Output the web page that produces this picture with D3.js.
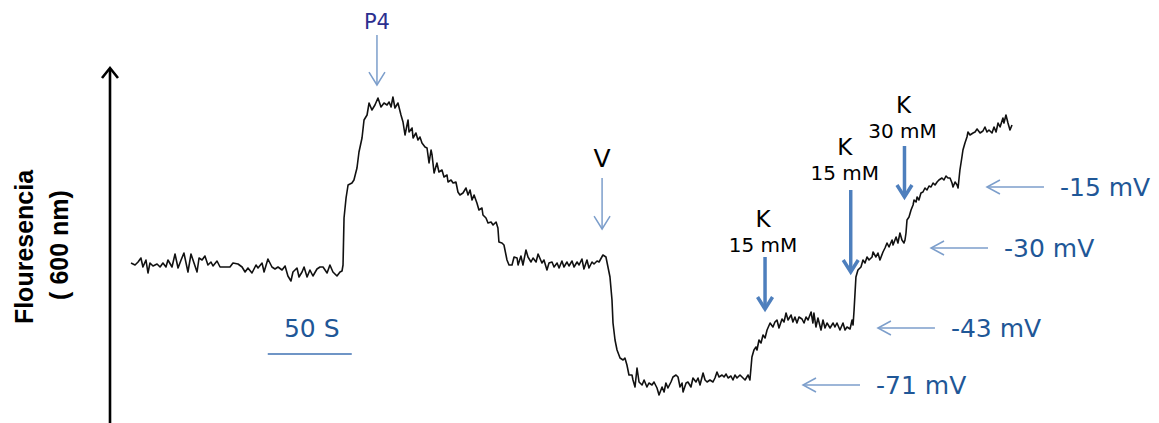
<!DOCTYPE html>
<html>
<head>
<meta charset="utf-8">
<script src="https://cdn.jsdelivr.net/npm/d3@7"></script>
<style>
  html, body { margin: 0; padding: 0; background: #ffffff; }
  svg { display: block; }
</style>
</head>
<body>
<svg id="chart" width="1159" height="423"></svg>
<script>
// Fluorescence trace (arbitrary units) against time (s)
const timeS = [
  0.6, 3.0, 4.8, 6.5, 7.7, 9.5, 10.7, 11.9, 13.7, 16.1, 17.9, 19.6, 21.4, 22.6, 25.0, 26.8, 28.6, 30.4, 32.1, 34.5,
  36.3, 37.5, 39.9, 41.1, 42.9, 44.6, 46.4, 48.2, 49.4, 51.8, 53.6, 56.5, 59.5, 61.3, 64.3, 66.7, 68.5, 70.2, 72.6, 75.0,
  76.2, 78.6, 79.8, 82.1, 84.5, 86.3, 88.1, 90.5, 92.3, 94.0, 95.8, 97.0, 99.4, 100.6, 102.4, 103.6, 105.4, 107.1, 108.9, 111.3,
  113.1, 114.9, 117.3, 119.0, 120.8, 123.2, 125.0, 126.2,
  126.8, 127.4, 128.6, 129.8, 132.1, 133.3, 135.1, 136.3, 138.1, 139.3, 141.1, 142.3, 144.0, 145.8, 147.6, 149.4, 151.2, 153.0, 154.2, 155.4,
  156.5, 157.7, 159.5, 161.3, 162.5, 163.7, 165.5, 166.1, 167.9, 168.5, 170.2, 171.4, 172.6, 173.8, 175.6, 176.8, 178.0, 179.2, 179.8, 181.0,
  182.7, 183.9, 185.7, 186.9, 188.7, 189.3, 191.1, 192.3, 194.0, 195.2, 196.4, 198.2, 200.0, 201.2, 202.4, 203.6, 204.8, 206.5, 207.7, 209.5,
  210.1, 211.9, 213.1, 214.9, 216.1, 217.9, 219.0, 219.6, 221.4, 222.6, 224.4, 225.6, 227.4, 228.6, 230.4, 231.0, 232.7, 233.9, 235.7, 236.9,
  238.7, 239.9, 241.7, 242.9, 245.2, 246.4, 248.2, 249.4, 251.2, 252.4, 254.2, 255.4, 257.1, 258.3, 260.1, 261.3, 263.1, 264.3, 266.1, 267.3,
  269.0, 270.2, 272.0, 273.2, 275.0, 276.2, 278.0, 279.2, 281.5, 283.3, 284.5, 285.7, 286.9, 287.5, 288.7, 289.9, 291.7, 293.5, 294.6, 295.8,
  297.0, 298.8, 299.4, 300.6, 301.8, 303.0, 304.8, 306.0, 307.7, 308.9, 310.7, 311.9, 313.7, 314.9, 316.7, 317.9, 319.0, 320.2, 322.0, 323.2,
  325.0, 326.2, 327.4, 328.6, 329.2, 331.0, 332.1, 333.9, 335.1, 336.9, 338.1, 339.3, 341.1, 342.3, 343.5, 345.2, 347.0, 348.2, 349.4, 350.6,
  352.4, 353.6, 354.8, 356.0, 357.7, 358.9, 360.1, 361.3, 363.1, 364.9, 366.1, 367.9, 369.0, 370.2, 371.4, 372.6, 373.2, 374.4, 375.6, 376.8,
  378.0, 379.2, 381.0, 382.7, 383.9, 385.1, 386.3, 388.1, 389.3, 390.5, 391.7, 393.5, 394.6, 395.8, 397.0, 398.2, 400.0, 401.2, 402.4, 403.6,
  405.4, 406.5, 407.1, 408.3, 409.5, 411.3, 412.5, 413.7, 414.9, 416.7, 418.5, 419.6, 420.8, 422.6, 424.4, 425.6, 426.8, 428.6, 429.8, 430.4,
  431.0, 432.1, 433.3, 435.1, 436.3, 437.5, 438.7, 439.9, 441.7, 442.3, 444.0, 445.2, 446.4, 448.2, 449.4, 450.6, 451.8, 453.6, 454.2, 456.0,
  457.1, 458.3, 459.5, 460.7, 461.3, 461.9, 462.5, 463.7, 464.9, 466.1, 466.7, 467.9, 468.5, 469.6, 470.8, 472.0, 473.2, 474.4, 475.6, 476.8,
  478.0, 479.2, 480.4, 481.5, 483.3, 484.5, 485.7, 486.9, 488.1, 489.3, 489.9, 491.1, 492.3, 492.9, 494.0, 495.2, 495.8, 497.0, 498.2, 498.8,
  500.0, 501.8, 503.0, 504.2, 506.0, 507.7, 508.9, 510.1, 511.3, 513.1, 514.3, 515.5, 516.7, 517.9, 519.6, 520.2, 521.4, 522.6, 523.8, 525.0
];
const fluorescence = [
  137, 135, 138, 142, 133, 140, 127, 137, 134, 136, 133, 137, 133, 140, 133, 146, 132, 140, 147, 128,
  146, 140, 128, 142, 140, 144, 135, 138, 134, 139, 133, 133, 133, 137, 136, 133, 128, 132, 127, 135,
  132, 137, 128, 141, 133, 131, 133, 130, 134, 124, 119, 128, 132, 123, 128, 133, 123, 130, 124, 131,
  133, 133, 127, 135, 128, 124, 128, 129,
  135, 182, 202, 215, 217, 220, 232, 248, 262, 280, 285, 297, 290, 295, 302, 293, 297, 295, 298, 293,
  303, 292, 297, 285, 278, 265, 280, 268, 272, 262, 267, 260, 263, 257, 253, 252, 237, 250, 245, 227,
  237, 228, 230, 223, 225, 218, 220, 217, 218, 208, 205, 207, 212, 205, 210, 200, 205, 197, 190, 192,
  185, 182, 177, 178, 175, 178, 172, 158, 157, 155, 140, 135, 135, 143, 142, 135, 144, 135, 150, 143,
  138, 142, 138, 146, 137, 140, 130, 137, 138, 133, 137, 132, 139, 133, 138, 134, 139, 133, 138, 135,
  141, 131, 140, 132, 138, 136, 139, 138, 145, 143, 133, 123, 100, 77, 60, 50, 42, 40, 42, 35,
  25, 25, 20, 13, 32, 18, 15, 20, 13, 17, 15, 18, 12, 5, 13, 8, 17, 12, 18, 23,
  25, 23, 13, 17, 8, 17, 18, 13, 22, 18, 22, 15, 27, 20, 18, 20, 18, 22, 28, 23,
  25, 23, 26, 22, 24, 20, 25, 22, 25, 22, 20, 25, 20, 43, 50, 53, 50, 60, 57, 65,
  62, 70, 77, 73, 78, 80, 72, 81, 78, 87, 80, 85, 78, 83, 77, 83, 81, 77, 83, 80,
  88, 77, 87, 73, 82, 70, 80, 72, 77, 72, 77, 73, 77, 70, 77, 70, 73, 71, 80, 75,
  90, 123, 130, 133, 140, 137, 143, 140, 143, 148, 143, 147, 140, 148, 152, 157, 153, 160, 155, 163,
  157, 167, 160, 157, 160, 167, 180, 183, 190, 195, 200, 198, 203, 200, 207, 208, 212, 210, 214, 213,
  217, 215, 218, 220, 222, 220, 224, 222, 222, 217, 213, 218, 215, 212, 230, 243, 250, 257, 263, 268,
  265, 267, 268, 271, 267, 269, 273, 268, 270, 267, 273, 268, 277, 273, 282, 277, 285, 277, 270, 275
];

// Additions to the bath: label, concentration, time (s)
const eventLabels = ["P4", "V", "K", "K", "K"];
const eventSubLabels = ["", "", "15 mM", "15 mM", "30 mM"];
const eventTimes = [147, 281, 378, 429, 461];

// Membrane potential calibration levels
const potentialLabels = ["-71 mV", "-43 mV", "-30 mV", "-15 mV"];
const potentialLevels = [15, 72, 152, 213];
const potentialArrowTimes = [400.6, 445.2, 476.8, 510.1];

// Time scale bar
const scaleBarLabel = "50 S";
const scaleBarStart = 82;
const scaleBarLength = 50;

const svg = d3.select("#chart");

const x = d3.scaleLinear().domain([0, 525]).range([130, 1012]);
const y = d3.scaleLinear().domain([0, 300]).range([400, 100]);

const labelBlue = "#1f5797";
const thinArrow = "#7c9ecb";
const heavyArrow = "#4e7fbd";
const sans = "'DejaVu Sans', Verdana, sans-serif";

// Vertical fluorescence axis with open arrow head
const axisX = 110;
svg.append("line")
  .attr("x1", axisX).attr("x2", axisX)
  .attr("y1", 430).attr("y2", 69)
  .attr("stroke", "#000").attr("stroke-width", 2.6);
svg.append("path")
  .attr("d", `M${axisX - 8},${78} L${axisX},${68} L${axisX + 8},${78}`)
  .attr("fill", "none").attr("stroke", "#000").attr("stroke-width", 2.6)
  .attr("stroke-linejoin", "miter");

// Axis title
svg.append("text")
  .attr("transform", "translate(33,247) rotate(-90)")
  .attr("text-anchor", "middle")
  .attr("font-family", "'Liberation Sans', Arial, sans-serif")
  .attr("font-weight", "bold")
  .attr("font-size", 25)
  .attr("fill", "#000")
  .text("Flouresencia");
svg.append("text")
  .attr("transform", "translate(68,245) rotate(-90)")
  .attr("text-anchor", "middle")
  .attr("font-family", "'Liberation Sans', Arial, sans-serif")
  .attr("font-weight", "bold")
  .attr("font-size", 25)
  .attr("fill", "#000")
  .text("( 600 nm)");

// Trace
const trace = timeS.map((t, i) => [t, fluorescence[i]]);
svg.append("path")
  .datum(trace)
  .attr("d", d3.line().x(d => x(d[0])).y(d => y(d[1])))
  .attr("fill", "none")
  .attr("stroke", "#111")
  .attr("stroke-width", 1.6)
  .attr("stroke-linejoin", "round");

// Scale bar
svg.append("line")
  .attr("x1", x(scaleBarStart)).attr("x2", x(scaleBarStart + scaleBarLength))
  .attr("y1", 354).attr("y2", 354)
  .attr("stroke", "#6f95c6").attr("stroke-width", 2);
svg.append("text")
  .attr("x", (x(scaleBarStart) + x(scaleBarStart + scaleBarLength)) / 2 + 2)
  .attr("y", 337)
  .attr("text-anchor", "middle")
  .attr("font-family", sans).attr("font-size", 25)
  .attr("fill", labelBlue)
  .text(scaleBarLabel);

// Downward arrow helper
function downArrow(cx, y0, y1, color, width, head) {
  svg.append("line")
    .attr("x1", cx).attr("x2", cx).attr("y1", y0).attr("y2", y1 - (width > 2 ? 2 : 0))
    .attr("stroke", color).attr("stroke-width", width);
  svg.append("path")
    .attr("d", `M${cx - head},${y1 - head * 1.6} L${cx},${y1} L${cx + head},${y1 - head * 1.6}`)
    .attr("fill", "none").attr("stroke", color).attr("stroke-width", width)
    .attr("stroke-linejoin", "miter");
}

// Event annotations
const eventLayout = [
  { top: 35, tip: 85, labelY: 29, subY: null, heavy: false, size: 21, color: "#2b2f8f", dx: 0, subDx: 0 },
  { top: 178, tip: 229, labelY: 167, subY: null, heavy: false, size: 25, color: "#000", dx: 0, subDx: 0 },
  { top: 257, tip: 309, labelY: 227, subY: 252, heavy: true, size: 23, color: "#000", dx: -2, subDx: -2 },
  { top: 190, tip: 272, labelY: 155, subY: 180, heavy: true, size: 23, color: "#000", dx: -6, subDx: -6 },
  { top: 146, tip: 197, labelY: 113, subY: 138, heavy: true, size: 23, color: "#000", dx: -1, subDx: -2 }
];
eventTimes.forEach((t, i) => {
  const L = eventLayout[i];
  const cx = x(t);
  svg.append("text")
    .attr("x", cx + L.dx).attr("y", L.labelY)
    .attr("text-anchor", "middle")
    .attr("font-family", sans).attr("font-size", L.size)
    .attr("fill", L.color)
    .text(eventLabels[i]);
  if (eventSubLabels[i]) {
    svg.append("text")
      .attr("x", cx + L.subDx).attr("y", L.subY)
      .attr("text-anchor", "middle")
      .attr("font-family", sans).attr("font-size", 20)
      .attr("fill", "#000")
      .text(eventSubLabels[i]);
  }
  if (L.heavy) downArrow(cx, L.top, L.tip, heavyArrow, 3.5, 7.5);
  else downArrow(cx, L.top, L.tip, thinArrow, 1.5, 8);
});

// Potential calibration arrows and labels
potentialLevels.forEach((lvl, i) => {
  const tipX = x(potentialArrowTimes[i]);
  const yy = y(lvl);
  svg.append("line")
    .attr("x1", tipX).attr("x2", tipX + 57)
    .attr("y1", yy).attr("y2", yy)
    .attr("stroke", thinArrow).attr("stroke-width", 1.5);
  svg.append("path")
    .attr("d", `M${tipX + 13},${yy - 7} L${tipX},${yy} L${tipX + 13},${yy + 7}`)
    .attr("fill", "none").attr("stroke", thinArrow).attr("stroke-width", 1.5);
  svg.append("text")
    .attr("x", tipX + 73).attr("y", yy + 9)
    .attr("font-family", sans).attr("font-size", 25)
    .attr("fill", labelBlue)
    .text(potentialLabels[i]);
});
</script>
</body>
</html>
